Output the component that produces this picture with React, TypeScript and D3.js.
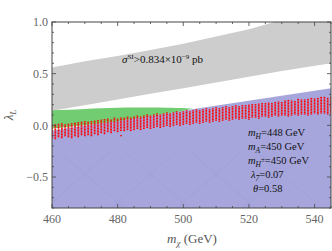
import React, { useEffect, useRef } from "react";
import * as d3 from "d3";

const width = 332;
const height = 251;

// sigma_SI excluded band (grey)
const bandX = [460, 470, 480, 490, 500, 510, 520, 530, 545];
const bandTop = [0.56, 0.62, 0.67, 0.73, 0.79, 0.86, 0.93, 1.02, 1.12];
const bandBottom = [0.14, 0.195, 0.25, 0.305, 0.36, 0.415, 0.47, 0.525, 0.6];

// relic density region (green)
const greenX = [460, 465, 470, 475, 480, 485, 490, 495, 498, 501, 503];
const greenTop = [0.145, 0.15, 0.158, 0.165, 0.17, 0.172, 0.172, 0.17, 0.168, 0.165, 0.16];
const greenBottom = [-0.03, -0.015, 0.0, 0.02, 0.04, 0.065, 0.09, 0.115, 0.13, 0.148, 0.16];

// allowed region (blue)
const blueX = [460, 545];
const blueTop = [-0.05, 0.36];

// scan points (red columns)
const scanX = d3.range(460, 546);
const scanTop = [
  0.0, 0.01, 0.01, 0.02, 0.01, 0.02, 0.02, 0.03, 0.03, 0.03,
  0.04, 0.04, 0.04, 0.05, 0.05, 0.05, 0.06, 0.06, 0.06, 0.07,
  0.07, 0.07, 0.08, 0.08, 0.08, 0.09, 0.09, 0.09, 0.1, 0.1,
  0.1, 0.11, 0.11, 0.11, 0.12, 0.12, 0.12, 0.13, 0.13, 0.13,
  0.14, 0.14, 0.14, 0.15, 0.15, 0.15, 0.16, 0.16, 0.16, 0.17,
  0.17, 0.17, 0.18, 0.18, 0.18, 0.19, 0.19, 0.19, 0.2, 0.2,
  0.2, 0.21, 0.21, 0.21, 0.21, 0.22, 0.22, 0.22, 0.23, 0.23,
  0.23, 0.24, 0.24, 0.24, 0.24, 0.25, 0.25, 0.25, 0.26, 0.26,
  0.26, 0.27, 0.27, 0.27, 0.27, 0.28,
];
const scanBottom = [
  -0.12, -0.13, -0.11, -0.12, -0.1, -0.11, -0.12, -0.1, -0.11, -0.09,
  -0.1, -0.09, -0.1, -0.08, -0.09, -0.07, -0.08, -0.06, -0.07, -0.05,
  -0.06, -0.05, -0.05, -0.04, -0.05, -0.04, -0.03, -0.04, -0.03, -0.02,
  -0.03, -0.02, -0.01, -0.02, -0.01, 0.0, -0.01, 0.0, 0.01, 0.0,
  0.01, 0.02, 0.01, 0.02, 0.03, 0.02, 0.03, 0.04, 0.03, 0.04,
  0.05, 0.04, 0.05, 0.06, 0.05, 0.06, 0.07, 0.06, 0.07, 0.07,
  0.06, 0.08, 0.08, 0.07, 0.09, 0.09, 0.08, 0.09, 0.1, 0.09,
  0.1, 0.1, 0.09, 0.1, 0.11, 0.1, 0.11, 0.11, 0.1, 0.11,
  0.12, 0.11, 0.12, 0.12, 0.11, 0.12,
];
const strayPoints = [[481, -0.1]];

const xTicks = [460, 480, 500, 520, 540];
const yTicks = [-0.5, 0.0, 0.5, 1.0];

const labels = [
  { base: "m", sub: "H", sup: "", rest: "=448 GeV", dx: 0 },
  { base: "m", sub: "A", sup: "", rest: "=450 GeV", dx: 0 },
  { base: "m", sub: "H", sup: "±", rest: "=450 GeV", dx: 0 },
  { base: "λ", sub: "7", sup: "", rest: "=0.07", dx: 3 },
  { base: "θ", sub: "", sup: "", rest: "=0.58", dx: 5 },
];

const Chart = () => {
  const ref = useRef<SVGSVGElement>(null);

  useEffect(() => {
    const svg = d3.select(ref.current);
    svg.selectAll("*").remove();

    const x = d3.scaleLinear().domain([460, 545]).range([52, 331]);
    const y = d3.scaleLinear().domain([-0.8, 1.0]).range([208, 22]);
    const [x0, x1] = x.range();
    const [y0, y1] = y.range();

    svg
      .append("clipPath")
      .attr("id", "plotclip")
      .append("rect")
      .attr("x", x0)
      .attr("y", y1)
      .attr("width", x1 - x0)
      .attr("height", y0 - y1);

    const plot = svg.append("g").attr("clip-path", "url(#plotclip)");

    const area = d3.area<number>().x((d) => x(d));

    // grey band
    plot
      .append("path")
      .attr("fill", "#cdcdcd")
      .attr(
        "d",
        area
          .y0((d, i) => y(bandBottom[i]))
          .y1((d, i) => y(bandTop[i]))(bandX)
      );

    // blue region
    plot
      .append("path")
      .attr("fill", "#a6a6dc")
      .attr("d", area.y0(() => y(-0.8)).y1((d, i) => y(blueTop[i]))(blueX));

    // faint mesh lines in blue
    const meshG = plot
      .append("g")
      .attr("stroke", "#8f8fd4")
      .attr("stroke-opacity", 0.35)
      .attr("stroke-width", 0.6);
    [470, 490, 510, 530].forEach((m) => {
      meshG
        .append("line")
        .attr("x1", x(m - 12))
        .attr("y1", y(-0.8))
        .attr("x2", x(m + 8))
        .attr("y2", y(-0.25));
      meshG
        .append("line")
        .attr("x1", x(m + 12))
        .attr("y1", y(-0.8))
        .attr("x2", x(m - 8))
        .attr("y2", y(-0.25));
    });

    // green region
    plot
      .append("path")
      .attr("fill", "#72cc72")
      .attr(
        "d",
        d3
          .area<number>()
          .x((d) => x(d))
          .y0((d, i) => y(greenBottom[i]))
          .y1((d, i) => y(greenTop[i]))
          .curve(d3.curveMonotoneX)(greenX)
      );

    // red scan points
    const dots: [number, number][] = [];
    scanX.forEach((mx, i) => {
      for (let l = scanBottom[i]; l <= scanTop[i] + 1e-6; l += 0.015) {
        dots.push([mx, l]);
      }
    });
    strayPoints.forEach((p) => dots.push([p[0], p[1]]));

    plot
      .append("g")
      .selectAll("rect")
      .data(dots)
      .join("rect")
      .attr("x", (d) => x(d[0]) - 0.85)
      .attr("y", (d) => y(d[1]) - 0.6)
      .attr("width", 1.7)
      .attr("height", 1.2)
      .attr("fill", "#ff0000");

    // sigma label
    const sig = svg
      .append("text")
      .attr("x", 122)
      .attr("y", 63)
      .attr("font-family", "Liberation Serif, serif")
      .attr("font-size", 11)
      .attr("fill", "#111");
    sig.append("tspan").attr("font-style", "italic").text("σ");
    sig.append("tspan").attr("font-size", 7).attr("dy", -4).text("SI");
    sig.append("tspan").attr("dy", 4).text(">0.834×10");
    sig.append("tspan").attr("font-size", 7).attr("dy", -4).text("−9");
    sig.append("tspan").attr("dy", 4).text(" pb");

    // parameter labels
    labels.forEach((lb, i) => {
      const t = svg
        .append("text")
        .attr("x", 248 + lb.dx)
        .attr("y", 136 + i * 14)
        .attr("font-family", "Liberation Serif, serif")
        .attr("font-size", 10.5)
        .attr("fill", "#111");
      t.append("tspan").attr("font-style", "italic").text(lb.base);
      if (lb.sub) {
        t.append("tspan")
          .attr("font-style", "italic")
          .attr("font-size", 7.5)
          .attr("dy", 2.5)
          .text(lb.sub);
        if (lb.sup) {
          t.append("tspan").attr("font-size", 7).attr("dy", -5).text(lb.sup);
          t.append("tspan").attr("dy", 2.5).text(lb.rest);
        } else {
          t.append("tspan").attr("dy", -2.5).text(lb.rest);
        }
      } else {
        t.append("tspan").text(lb.rest);
      }
    });

    // frame
    svg
      .append("rect")
      .attr("x", x0)
      .attr("y", y1)
      .attr("width", x1 - x0)
      .attr("height", y0 - y1)
      .attr("fill", "none")
      .attr("stroke", "#444")
      .attr("stroke-width", 1);

    // ticks
    const tickG = svg.append("g").attr("stroke", "#444").attr("stroke-width", 0.8);
    d3.range(460, 546, 5).forEach((v) => {
      const len = v % 20 === 0 ? 4 : 2;
      tickG.append("line").attr("x1", x(v)).attr("x2", x(v)).attr("y1", y0).attr("y2", y0 - len);
      tickG.append("line").attr("x1", x(v)).attr("x2", x(v)).attr("y1", y1).attr("y2", y1 + len);
    });
    d3.range(-8, 11, 1).forEach((k) => {
      const v = k / 10;
      const len = k % 5 === 0 ? 4 : 2;
      tickG.append("line").attr("x1", x0).attr("x2", x0 + len).attr("y1", y(v)).attr("y2", y(v));
      tickG.append("line").attr("x1", x1).attr("x2", x1 - len).attr("y1", y(v)).attr("y2", y(v));
    });

    // tick labels
    svg
      .append("g")
      .selectAll("text")
      .data(xTicks)
      .join("text")
      .attr("x", (d) => x(d))
      .attr("y", 223)
      .attr("text-anchor", "middle")
      .attr("font-family", "Liberation Serif, serif")
      .attr("font-size", 12)
      .attr("fill", "#666")
      .text((d) => d);

    svg
      .append("g")
      .selectAll("text")
      .data(yTicks)
      .join("text")
      .attr("x", 48)
      .attr("y", (d) => y(d))
      .attr("dy", "0.35em")
      .attr("text-anchor", "end")
      .attr("font-family", "Liberation Serif, serif")
      .attr("font-size", 12)
      .attr("fill", "#666")
      .text((d) => (d < 0 ? "−" : "") + d3.format(".1f")(Math.abs(d)));

    // axis titles
    const xt = svg
      .append("text")
      .attr("x", 192)
      .attr("y", 243)
      .attr("text-anchor", "middle")
      .attr("font-family", "Liberation Serif, serif")
      .attr("font-size", 13)
      .attr("fill", "#555");
    xt.append("tspan").attr("font-style", "italic").text("m");
    xt.append("tspan").attr("font-style", "italic").attr("font-size", 9).attr("dy", 3).text("χ");
    xt.append("tspan").attr("dy", -3).text(" (GeV)");

    const yt = svg
      .append("text")
      .attr("transform", `translate(13,${(y0 + y1) / 2}) rotate(-90)`)
      .attr("text-anchor", "middle")
      .attr("font-family", "Liberation Serif, serif")
      .attr("font-size", 13)
      .attr("fill", "#555");
    yt.append("tspan").attr("font-style", "italic").text("λ");
    yt.append("tspan").attr("font-style", "italic").attr("font-size", 9).attr("dy", 3).text("L");
  }, []);

  return (
    <svg
      ref={ref}
      width={width}
      height={height}
      viewBox={`0 0 ${width} ${height}`}
      style={{ position: "absolute", left: 0, top: 0, background: "#fff" }}
    ></svg>
  );
};

export default function App() {
  return <Chart />;
}
